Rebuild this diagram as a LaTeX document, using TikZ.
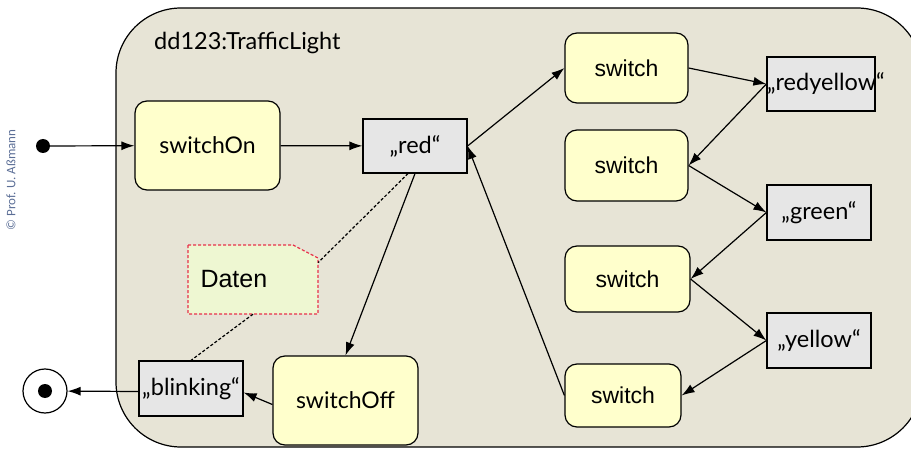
\documentclass[tikz,border=0pt]{standalone}
\usepackage{fontspec}
\setmainfont{Lato}
\newfontfamily\arialfont{Liberation Sans}
\newfontfamily\copyfont{Carlito}
\usetikzlibrary{arrows.meta, positioning}

\definecolor{boxbg}{HTML}{E7E4D6}
\definecolor{stateyellow}{HTML}{FFFFCC}
\definecolor{objgray}{HTML}{E6E6E6}
\definecolor{notegreen}{HTML}{EEF7D2}
\definecolor{notered}{HTML}{E8304A}
\definecolor{copyblue}{HTML}{5B6E96}

\begin{document}
\begin{tikzpicture}[
  x=1pt, y=-1pt,
  >={Latex[length=13pt,width=9pt]},
  every node/.style={align=center, inner sep=0pt},
  statebox/.style={draw, line width=1.2pt, rounded corners=12pt, fill=stateyellow,
    font=\fontsize{23}{25}\selectfont},
  switchbox/.style={statebox, font=\arialfont\fontsize{23}{25}\selectfont},
  objbox/.style={draw, line width=1.2pt, fill=objgray, font=\fontsize{23.5}{25}\selectfont},
  arr/.style={->, line width=1.2pt},
  link/.style={line width=1.2pt, dash pattern=on 3pt off 2pt},
]
\useasboundingbox (0,0) rectangle (911,449);

% container
\draw[line width=1.2pt, fill=boxbg, rounded corners=65pt] (116,8) rectangle (922,447);
\node (title) [anchor=west, font=\fontsize{23.5}{25}\selectfont] at (154,43) {dd123:TrafficLight};

% copyright
\node (copy) [rotate=90, text=copyblue, font=\copyfont\fontsize{13}{14}\selectfont] at (11,180) {© Prof. U. Aßmann};

% pseudo states
\node (init) [circle, fill, minimum size=14pt] at (43,146) {};
\node (final) [circle, draw, line width=1.2pt, fill=white, minimum size=44pt] at (45,391) {};
\fill (final.center) circle (7pt);

% states
\node (switchOn) [statebox, minimum width=145pt, minimum height=89pt] at (207.5,145.5) {switchOn};
\node (switchOff) [statebox, minimum width=145pt, minimum height=89pt] at (345.5,400.5) {switchOff};
\node (sw1) [switchbox, minimum width=123pt, minimum height=70pt] at (626.5,68) {switch};
\node (sw2) [switchbox, minimum width=123pt, minimum height=71pt] at (626.5,165.5) {switch};
\node (sw3) [switchbox, minimum width=125pt, minimum height=66pt] at (627.5,279) {switch};
\node (sw4) [switchbox, minimum width=116pt, minimum height=63pt] at (623,395.5) {switch};

% objects
\node (red) [objbox, minimum width=104pt, minimum height=54pt] at (415,146) {„red“};
\node (redyellow) [objbox, text width=108pt, minimum height=54pt] at (821,84) {„redyellow“};
\node (green) [objbox, minimum width=104pt, minimum height=55pt] at (819,212.5) {„green“};
\node (yellow) [objbox, minimum width=104pt, minimum height=55pt] at (819,340.5) {„yellow“};
\node (blinking) [objbox, minimum width=104pt, minimum height=55pt] at (191,388.5) {„blinking“};

% note
\path[fill=notegreen, draw=notered, line width=1.2pt, dash pattern=on 3pt off 2pt]
  (188,245) -- (293,245) -- (318,258) -- (318,314) -- (188,314) -- cycle;
\node (daten) [minimum width=130pt, minimum height=69pt, text width=113pt, align=left,
  font=\arialfont\fontsize{25}{27}\selectfont] at (253,279.5) {\hspace*{4pt}Daten};

% transitions
\draw[arr] (init) -- (switchOn);
\draw[arr] (switchOn) -- (red);
\draw[arr] (red.east) -- (sw1.west);
\draw[arr] (sw1.east) -- (redyellow.west);
\draw[arr] (redyellow.west) -- (sw2.east);
\draw[arr] (sw2.east) -- (green.west);
\draw[arr] (green.west) -- (sw3.east);
\draw[arr] (sw3.east) -- (yellow.west);
\draw[arr] (yellow.west) -- (sw4.east);
\draw[arr] (sw4.west) -- (red.east);
\draw[arr] (red.south) -- (switchOff.north);
\draw[arr] ([yshift=-4pt]switchOff.west) -- ([yshift=-4pt]blinking.east);
\draw[arr] ([yshift=-3pt]blinking.west) -- (final);

% note links
\draw[link] ([xshift=-7pt]red.south) -- ([yshift=17pt]daten.east);
\draw[link] (daten.south) -- (blinking.north);
\end{tikzpicture}
\end{document}
